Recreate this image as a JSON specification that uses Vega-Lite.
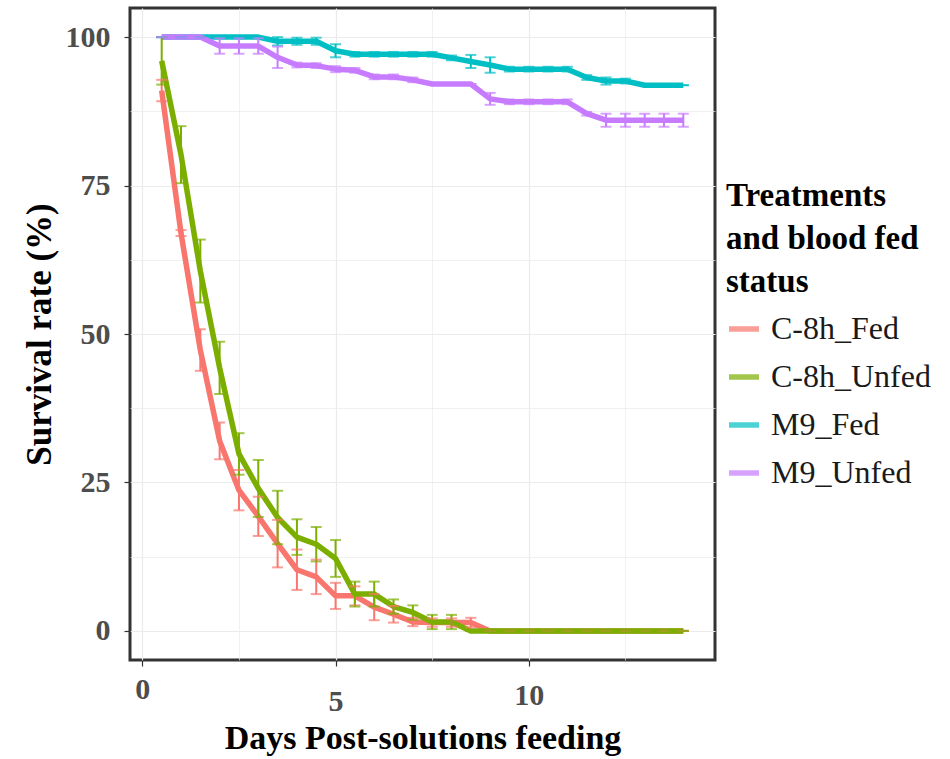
{
  "$schema": "https://vega.github.io/schema/vega-lite/v6.json",
  "width": 585,
  "height": 652,
  "autosize": {"type": "none"},
  "padding": {"left": 130, "top": 8, "right": 235, "bottom": 99},
  "background": "white",
  "config": {
    "font": "Liberation Serif",
    "view": {"stroke": "#333333", "strokeWidth": 3},
    "axis": {"domain": false, "tickColor": "#333333", "tickSize": 6, "tickWidth": 1.2}
  },
  "data": {
    "values": [
      {"group": "C-8h_Fed", "day": 0.5, "rate": 91, "err": 1.8},
      {"group": "C-8h_Fed", "day": 1.0, "rate": 67, "err": 0.5},
      {"group": "C-8h_Fed", "day": 1.5, "rate": 47.3, "err": 3.5},
      {"group": "C-8h_Fed", "day": 2.0, "rate": 32, "err": 3.1},
      {"group": "C-8h_Fed", "day": 2.5, "rate": 23.7, "err": 3.4},
      {"group": "C-8h_Fed", "day": 3.0, "rate": 19.3, "err": 3.3},
      {"group": "C-8h_Fed", "day": 3.5, "rate": 14.7, "err": 4},
      {"group": "C-8h_Fed", "day": 4.0, "rate": 10.3, "err": 3.4},
      {"group": "C-8h_Fed", "day": 4.5, "rate": 9.1, "err": 2.9},
      {"group": "C-8h_Fed", "day": 5.0, "rate": 5.9, "err": 2.2},
      {"group": "C-8h_Fed", "day": 5.5, "rate": 5.9, "err": 1.6},
      {"group": "C-8h_Fed", "day": 6.0, "rate": 4.0, "err": 2.2},
      {"group": "C-8h_Fed", "day": 6.5, "rate": 2.8, "err": 1.4},
      {"group": "C-8h_Fed", "day": 7.0, "rate": 1.5, "err": 0.7},
      {"group": "C-8h_Fed", "day": 7.5, "rate": 1.4, "err": 0.7},
      {"group": "C-8h_Fed", "day": 8.0, "rate": 1.4, "err": 0.7},
      {"group": "C-8h_Fed", "day": 8.5, "rate": 1.4, "err": 0.8},
      {"group": "C-8h_Fed", "day": 9.0, "rate": 0, "err": 0},
      {"group": "C-8h_Fed", "day": 9.5, "rate": 0, "err": 0},
      {"group": "C-8h_Fed", "day": 10.0, "rate": 0, "err": 0},
      {"group": "C-8h_Fed", "day": 10.5, "rate": 0, "err": 0},
      {"group": "C-8h_Fed", "day": 11.0, "rate": 0, "err": 0},
      {"group": "C-8h_Fed", "day": 11.5, "rate": 0, "err": 0},
      {"group": "C-8h_Fed", "day": 12.0, "rate": 0, "err": 0},
      {"group": "C-8h_Fed", "day": 12.5, "rate": 0, "err": 0},
      {"group": "C-8h_Fed", "day": 13.0, "rate": 0, "err": 0},
      {"group": "C-8h_Fed", "day": 13.5, "rate": 0, "err": 0},
      {"group": "C-8h_Fed", "day": 14.0, "rate": 0, "err": 0},
      {"group": "C-8h_Unfed", "day": 0.5, "rate": 96, "err": 4},
      {"group": "C-8h_Unfed", "day": 1.0, "rate": 80.2, "err": 4.8},
      {"group": "C-8h_Unfed", "day": 1.5, "rate": 60.6, "err": 5.3},
      {"group": "C-8h_Unfed", "day": 2.0, "rate": 44.3, "err": 4.4},
      {"group": "C-8h_Unfed", "day": 2.5, "rate": 29.8, "err": 3.5},
      {"group": "C-8h_Unfed", "day": 3.0, "rate": 24, "err": 4.8},
      {"group": "C-8h_Unfed", "day": 3.5, "rate": 19.1, "err": 4.5},
      {"group": "C-8h_Unfed", "day": 4.0, "rate": 15.8, "err": 3},
      {"group": "C-8h_Unfed", "day": 4.5, "rate": 14.6, "err": 2.9},
      {"group": "C-8h_Unfed", "day": 5.0, "rate": 12.2, "err": 3.1},
      {"group": "C-8h_Unfed", "day": 5.5, "rate": 6.2, "err": 2.1},
      {"group": "C-8h_Unfed", "day": 6.0, "rate": 6.2, "err": 2.1},
      {"group": "C-8h_Unfed", "day": 6.5, "rate": 4.1, "err": 1.2},
      {"group": "C-8h_Unfed", "day": 7.0, "rate": 3.1, "err": 1.2},
      {"group": "C-8h_Unfed", "day": 7.5, "rate": 1.5, "err": 1.2},
      {"group": "C-8h_Unfed", "day": 8.0, "rate": 1.5, "err": 1.2},
      {"group": "C-8h_Unfed", "day": 8.5, "rate": 0, "err": 0},
      {"group": "C-8h_Unfed", "day": 9.0, "rate": 0, "err": 0},
      {"group": "C-8h_Unfed", "day": 9.5, "rate": 0, "err": 0},
      {"group": "C-8h_Unfed", "day": 10.0, "rate": 0, "err": 0},
      {"group": "C-8h_Unfed", "day": 10.5, "rate": 0, "err": 0},
      {"group": "C-8h_Unfed", "day": 11.0, "rate": 0, "err": 0},
      {"group": "C-8h_Unfed", "day": 11.5, "rate": 0, "err": 0},
      {"group": "C-8h_Unfed", "day": 12.0, "rate": 0, "err": 0},
      {"group": "C-8h_Unfed", "day": 12.5, "rate": 0, "err": 0},
      {"group": "C-8h_Unfed", "day": 13.0, "rate": 0, "err": 0},
      {"group": "C-8h_Unfed", "day": 13.5, "rate": 0, "err": 0},
      {"group": "C-8h_Unfed", "day": 14.0, "rate": 0, "err": 0},
      {"group": "M9_Fed", "day": 0.5, "rate": 100, "err": 0},
      {"group": "M9_Fed", "day": 1.0, "rate": 100, "err": 0},
      {"group": "M9_Fed", "day": 1.5, "rate": 100, "err": 0},
      {"group": "M9_Fed", "day": 2.0, "rate": 100, "err": 0},
      {"group": "M9_Fed", "day": 2.5, "rate": 100, "err": 0},
      {"group": "M9_Fed", "day": 3.0, "rate": 100, "err": 0},
      {"group": "M9_Fed", "day": 3.5, "rate": 99.3, "err": 0.7},
      {"group": "M9_Fed", "day": 4.0, "rate": 99.3, "err": 0.6},
      {"group": "M9_Fed", "day": 4.5, "rate": 99.3, "err": 0.6},
      {"group": "M9_Fed", "day": 5.0, "rate": 97.7, "err": 1.1},
      {"group": "M9_Fed", "day": 5.5, "rate": 97.1, "err": 0.4},
      {"group": "M9_Fed", "day": 6.0, "rate": 97.1, "err": 0.4},
      {"group": "M9_Fed", "day": 6.5, "rate": 97.1, "err": 0.4},
      {"group": "M9_Fed", "day": 7.0, "rate": 97.1, "err": 0.4},
      {"group": "M9_Fed", "day": 7.5, "rate": 97.1, "err": 0.4},
      {"group": "M9_Fed", "day": 8.0, "rate": 96.5, "err": 0.4},
      {"group": "M9_Fed", "day": 8.5, "rate": 95.9, "err": 1.1},
      {"group": "M9_Fed", "day": 9.0, "rate": 95.3, "err": 1.3},
      {"group": "M9_Fed", "day": 9.5, "rate": 94.6, "err": 0.4},
      {"group": "M9_Fed", "day": 10.0, "rate": 94.6, "err": 0.4},
      {"group": "M9_Fed", "day": 10.5, "rate": 94.6, "err": 0.4},
      {"group": "M9_Fed", "day": 11.0, "rate": 94.6, "err": 0.4},
      {"group": "M9_Fed", "day": 11.5, "rate": 93.2, "err": 0.4},
      {"group": "M9_Fed", "day": 12.0, "rate": 92.6, "err": 0.6},
      {"group": "M9_Fed", "day": 12.5, "rate": 92.6, "err": 0.4},
      {"group": "M9_Fed", "day": 13.0, "rate": 91.9, "err": 0},
      {"group": "M9_Fed", "day": 13.5, "rate": 91.9, "err": 0},
      {"group": "M9_Fed", "day": 14.0, "rate": 91.9, "err": 0},
      {"group": "M9_Unfed", "day": 0.5, "rate": 100, "err": 0},
      {"group": "M9_Unfed", "day": 1.0, "rate": 100, "err": 0},
      {"group": "M9_Unfed", "day": 1.5, "rate": 100, "err": 0},
      {"group": "M9_Unfed", "day": 2.0, "rate": 98.5, "err": 1.3},
      {"group": "M9_Unfed", "day": 2.5, "rate": 98.5, "err": 1.3},
      {"group": "M9_Unfed", "day": 3.0, "rate": 98.5, "err": 1.3},
      {"group": "M9_Unfed", "day": 3.5, "rate": 96.6, "err": 1.8},
      {"group": "M9_Unfed", "day": 4.0, "rate": 95.3, "err": 0.4},
      {"group": "M9_Unfed", "day": 4.5, "rate": 95.2, "err": 0.4},
      {"group": "M9_Unfed", "day": 5.0, "rate": 94.6, "err": 0.5},
      {"group": "M9_Unfed", "day": 5.5, "rate": 94.4, "err": 0.4},
      {"group": "M9_Unfed", "day": 6.0, "rate": 93.3, "err": 0.4},
      {"group": "M9_Unfed", "day": 6.5, "rate": 93.3, "err": 0.4},
      {"group": "M9_Unfed", "day": 7.0, "rate": 92.8, "err": 0.4},
      {"group": "M9_Unfed", "day": 7.5, "rate": 92.1, "err": 0},
      {"group": "M9_Unfed", "day": 8.0, "rate": 92.1, "err": 0},
      {"group": "M9_Unfed", "day": 8.5, "rate": 92.1, "err": 0},
      {"group": "M9_Unfed", "day": 9.0, "rate": 89.6, "err": 1},
      {"group": "M9_Unfed", "day": 9.5, "rate": 89.1, "err": 0.4},
      {"group": "M9_Unfed", "day": 10.0, "rate": 89.1, "err": 0.4},
      {"group": "M9_Unfed", "day": 10.5, "rate": 89.1, "err": 0.4},
      {"group": "M9_Unfed", "day": 11.0, "rate": 89.1, "err": 0.4},
      {"group": "M9_Unfed", "day": 11.5, "rate": 87.1, "err": 0.3},
      {"group": "M9_Unfed", "day": 12.0, "rate": 86.0, "err": 1.1},
      {"group": "M9_Unfed", "day": 12.5, "rate": 86.0, "err": 1.1},
      {"group": "M9_Unfed", "day": 13.0, "rate": 86.0, "err": 1.1},
      {"group": "M9_Unfed", "day": 13.5, "rate": 86.0, "err": 1.1},
      {"group": "M9_Unfed", "day": 14.0, "rate": 86.0, "err": 1.1}
    ]
  },
  "transform": [
    {"calculate": "datum.rate - datum.err", "as": "lo"},
    {"calculate": "datum.rate + datum.err", "as": "hi"}
  ],
  "encoding": {
    "x": {
      "field": "day", "type": "quantitative",
      "scale": {"domain": [-0.32, 14.82], "nice": false, "zero": false},
      "axis": {
        "title": "Days Post-solutions feeding",
        "values": [0, 2.5, 5, 7.5, 10, 12.5],
        "labelExpr": "datum.value % 5 == 0 ? datum.label : ''",
        "labelFont": "Liberation Serif", "labelFontSize": 30, "labelFontWeight": "bold", "labelColor": "#4D4D4D",
        "labelBaseline": "top",
        "labelPadding": {"condition": [{"test": "datum.value == 0", "value": 8}, {"test": "datum.value == 10", "value": 14}], "value": 20},
        "tickOpacity": {"condition": {"test": "datum.value % 5 == 0", "value": 1}, "value": 0},
        "gridColor": "#EBEBEB",
        "gridWidth": {"condition": {"test": "datum.value % 5 == 0", "value": 1.2}, "value": 0.7},
        "titleFont": "Liberation Serif", "titleFontSize": 34, "titleFontWeight": "bold", "titleColor": "black",
        "titlePadding": 5
      }
    },
    "y": {
      "field": "rate", "type": "quantitative",
      "scale": {"domain": [-4.9, 104.9], "nice": false, "zero": false},
      "axis": {
        "title": "Survival rate (%)",
        "values": [0, 12.5, 25, 37.5, 50, 62.5, 75, 87.5, 100],
        "labelExpr": "datum.value % 25 == 0 ? datum.label : ''",
        "labelFont": "Liberation Serif", "labelFontSize": 30, "labelFontWeight": "bold", "labelColor": "#4D4D4D",
        "labelPadding": 14,
        "tickOpacity": {"condition": {"test": "datum.value % 25 == 0", "value": 1}, "value": 0},
        "gridColor": "#EBEBEB",
        "gridWidth": {"condition": {"test": "datum.value % 25 == 0", "value": 1.2}, "value": 0.7},
        "titleFont": "Liberation Serif", "titleFontSize": 35, "titleFontWeight": "bold", "titleColor": "black",
        "titlePadding": 8
      }
    },
    "color": {
      "field": "group", "type": "nominal",
      "scale": {"domain": ["C-8h_Fed", "C-8h_Unfed", "M9_Fed", "M9_Unfed"], "range": ["#F8766D", "#7CAE00", "#00BFC4", "#C77CFF"]},
      "legend": {
        "title": ["Treatments", "and blood fed", "status"],
        "titleFont": "Liberation Serif", "titleFontSize": 33, "titleFontWeight": "bold", "titleColor": "black",
        "titleLineHeight": 43, "titlePadding": 12, "titleLimit": 400,
        "labelFont": "Liberation Serif", "labelFontSize": 32, "labelColor": "#1a1a1a", "labelLimit": 400,
        "labelOffset": 9,
        "symbolType": "stroke", "symbolStrokeWidth": 5.5, "symbolSize": 900,
        "rowPadding": 14,
        "orient": "none", "legendX": 596, "legendY": 172
      }
    }
  },
  "layer": [
    {"mark": {"type": "line", "strokeWidth": 5.5, "strokeJoin": "round"}},
    {"mark": {"type": "rule", "strokeWidth": 2}, "encoding": {"y": {"field": "lo", "type": "quantitative"}, "y2": {"field": "hi"}}},
    {"mark": {"type": "tick", "orient": "horizontal", "size": 11, "thickness": 2}, "encoding": {"y": {"field": "lo", "type": "quantitative"}}},
    {"mark": {"type": "tick", "orient": "horizontal", "size": 11, "thickness": 2}, "encoding": {"y": {"field": "hi", "type": "quantitative"}}}
  ]
}
